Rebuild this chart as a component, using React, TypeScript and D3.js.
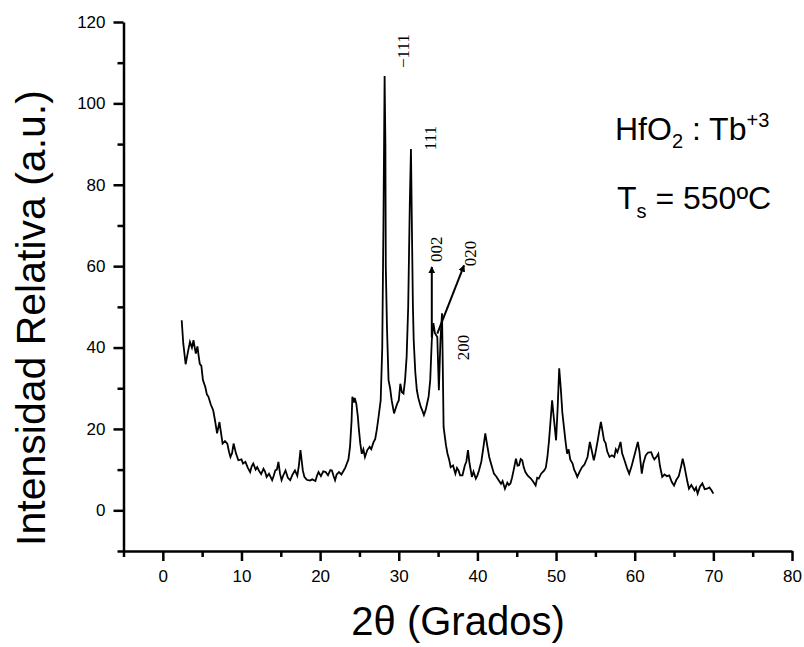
import React, { useEffect, useRef } from 'react';
import * as d3 from 'd3';

// XRD pattern, HfO2:Tb
const twoTheta = [
  2.4, 2.6, 2.9, 3.2, 3.45, 3.7, 3.9, 4.1, 4.2, 4.4, 4.55, 4.7, 4.9, 5.1, 5.4, 5.6, 5.8, 6.1, 6.4, 6.6,
  6.9, 7.2, 7.4, 7.6, 7.9, 8.2, 8.4, 8.6, 8.8, 9.0, 9.3, 9.6, 10.0, 10.2, 10.5, 10.8, 11.1, 11.3, 11.5, 11.8,
  12.0, 12.2, 12.5, 12.8, 13.0, 13.2, 13.5, 13.9, 14.1, 14.3, 14.5, 14.7, 14.9, 15.1, 15.3, 15.6, 15.9, 16.2, 16.5, 16.8,
  17.1, 17.3, 17.5, 17.7, 17.8, 18.0, 18.3, 18.7, 19.0, 19.4, 19.6, 19.8, 20.1, 20.4, 20.7, 21.0, 21.3, 21.5, 21.7, 21.9,
  22.1, 22.4, 22.7, 23.0, 23.2, 23.4, 23.6, 23.8, 24.0, 24.1, 24.3, 24.4, 24.6, 24.8, 24.9, 25.1, 25.3, 25.5, 25.7, 26.0,
  26.3, 26.5, 26.8, 27.0, 27.2, 27.4, 27.7, 27.9, 28.05, 28.2, 28.3, 28.35, 28.5, 28.7, 28.9, 29.1, 29.4, 29.6, 29.8, 30.0,
  30.2, 30.4, 30.6, 30.8, 31.0, 31.2, 31.4, 31.55, 31.7, 31.8, 31.9, 32.1, 32.3, 32.5, 32.8, 33.0, 33.2, 33.4, 33.6, 33.8,
  34.0, 34.2, 34.4, 34.6, 34.9, 35.1, 35.3, 35.5, 35.6, 35.7, 36.0, 36.2, 36.4, 36.6, 36.9, 37.2, 37.4, 37.6, 37.8, 38.1,
  38.4, 38.6, 38.8, 39.0, 39.3, 39.5, 39.8, 40.0, 40.2, 40.5, 40.8, 41.0, 41.2, 41.5, 41.8, 42.1, 42.4, 42.7, 43.0, 43.2,
  43.5, 43.8, 44.0, 44.2, 44.4, 44.6, 44.9, 45.1, 45.3, 45.5, 45.7, 45.9, 46.1, 46.4, 46.8, 47.1, 47.4, 47.6, 47.8, 48.1,
  48.5, 48.7, 48.9, 49.1, 49.3, 49.5, 49.7, 50.0, 50.2, 50.4, 50.6, 50.8, 51.0, 51.2, 51.4, 51.6, 51.8, 52.1, 52.3, 52.5,
  52.7, 53.0, 53.3, 53.6, 54.0, 54.3, 54.5, 54.8, 55.0, 55.3, 55.5, 55.7, 55.9, 56.1, 56.3, 56.5, 56.8, 57.1, 57.4, 57.6,
  57.8, 58.0, 58.2, 58.4, 58.7, 59.0, 59.3, 59.6, 59.8, 60.1, 60.4, 60.6, 60.9, 61.1, 61.4, 61.7, 62.1, 62.3, 62.5, 62.8,
  63.0, 63.2, 63.5, 63.8, 64.1, 64.4, 64.7, 65.0, 65.3, 65.6, 65.9, 66.1, 66.3, 66.5, 66.7, 66.9, 67.2, 67.6, 67.8, 68.0,
  68.3, 68.6, 68.9, 69.2, 69.5, 69.8, 70.0,
];
const intensity = [
  46.7, 41, 35.9, 39, 41.4, 40, 41.8, 39.5, 38.5, 40.3, 38, 36, 35.5, 32, 30.3, 28.5, 27.9, 26, 24.6, 22.5,
  18.9, 21.7, 19, 16.4, 17, 16.4, 14.5, 13.1, 14, 16.4, 14, 12.3, 12.5, 11.5, 11.9, 10.5, 9.4, 10.8, 11.5, 10,
  10.6, 9.8, 8.9, 10.2, 9.5, 8.2, 9, 7.4, 8.5, 9.8, 10, 11.9, 9, 7.4, 8.5, 9.8, 8, 7.4, 8.8, 9.8,
  8.5, 11, 14.8, 11.5, 9.8, 8.2, 7.5, 7.3, 7.6, 7.2, 8.5, 9.4, 8.4, 9.6, 9.4, 8.6, 9.9, 9.8, 8.5, 7.4,
  8.8, 9.4, 8.8, 9.8, 10.5, 11.5, 12.5, 15.6, 22, 27.9, 26.5, 27.6, 26.2, 23, 20.5, 16.5, 13.9, 15, 13.1, 14.8,
  15.6, 15, 16.8, 17.5, 19.7, 22.5, 27, 40, 70, 106.7, 90, 60, 45, 32, 30, 27, 23.8, 25, 26.2, 27,
  31.1, 29, 28.7, 32, 37.7, 50, 75, 88.8, 65, 50, 41.8, 34, 29.5, 27.5, 25.4, 24.5, 23.4, 24.5, 26.2, 28,
  32, 41.8, 46, 43.5, 42.6, 29.5, 41.8, 48.4, 35, 20.5, 16, 13.9, 12.5, 10.6, 11, 9, 10.4, 9.8, 8.6, 8.6,
  11, 12, 14.8, 11.5, 8.2, 9.5, 7.8, 8.6, 9.8, 12, 16, 18.9, 16.5, 13.1, 11, 9, 8.3, 7.4, 6.5, 7.2,
  5.3, 6.8, 6.2, 6.6, 8, 9.8, 12.7, 11, 11.1, 12.6, 12.3, 10.5, 9.4, 8.5, 7.8, 7, 6.1, 8, 7.8, 9,
  9.8, 10.5, 13.1, 17, 22, 27, 23, 17.2, 25, 34.9, 30, 24, 20.5, 17, 13.9, 15, 12.5, 11.5, 10, 9.2,
  8.2, 9.5, 10.6, 11.2, 13.1, 16.8, 15, 12.3, 14, 17.2, 19.5, 21.7, 19.5, 17.2, 16.5, 14.5, 13.1, 13.5, 13.1, 15,
  14.3, 15.5, 16.8, 14, 12.3, 10.5, 9, 10.8, 12.3, 14.5, 16.8, 14.5, 9, 11.5, 13.5, 14.2, 14.3, 13.2, 12.5, 13.2,
  13.9, 11, 8.2, 8.8, 8.4, 8.6, 7, 6.1, 7.5, 8.4, 10.8, 12.7, 11, 9, 7, 5.3, 6.2, 4.9, 5.6, 4.1,
  5.8, 6.6, 5.2, 5.3, 5.6, 4.8, 4.1,
];

const xMajor = [0, 10, 20, 30, 40, 50, 60, 70, 80];
const xMinor = [-5, 5, 15, 25, 35, 45, 55, 65, 75];
const yMajor = [0, 20, 40, 60, 80, 100, 120];
const yMinor = [-10, 10, 30, 50, 70, 90, 110];

// Miller indices and where their labels sit (2θ, intensity)
const peakNames = ['\u2212111', '111', '002', '020', '200'];
const peakTheta = [31.3, 34.7, 35.5, 39.8, 38.9];
const peakInt = [108.7, 88.5, 61, 60, 36.9];

// arrows: from [2θ, I] to [2θ, I]
const arrowFrom = [[34.2, 42.5], [34.9, 43.4]];
const arrowTo = [[34.2, 59.8], [38.3, 60.2]];

const W = 804;
const H = 647;
const SANS = "'Liberation Sans', Arial, sans-serif";
const SERIF = "'Liberation Serif', 'Times New Roman', serif";

export default function App() {
  const ref = useRef<SVGSVGElement>(null);

  useEffect(() => {
    if (!ref.current) return;
    const svg = d3.select(ref.current);
    svg.selectAll('*').remove();

    const x = d3.scaleLinear().domain([-5, 80]).range([123.5, 792]);
    const y = d3.scaleLinear().domain([-10, 120]).range([551, 22]);

    svg.append('defs').append('marker')
      .attr('id', 'arrowhead')
      .attr('viewBox', '0 0 10 10')
      .attr('refX', 9).attr('refY', 5)
      .attr('markerWidth', 7).attr('markerHeight', 7)
      .attr('markerUnits', 'userSpaceOnUse')
      .attr('orient', 'auto')
      .append('path').attr('d', 'M0,0 L10,5 L0,10 Z').attr('fill', '#000');

    // X axis
    const gx = svg.append('g').attr('transform', `translate(0,${y(-10)})`);
    gx.call(d3.axisBottom(x).tickValues(xMajor).tickSize(10).tickSizeOuter(0).tickPadding(9).tickFormat(d3.format('d')) as any);
    gx.append('g').call(d3.axisBottom(x).tickValues(xMinor).tickSize(6).tickSizeOuter(0).tickFormat(() => '') as any)
      .select('.domain').remove();

    // Y axis
    const gy = svg.append('g').attr('transform', `translate(${x(-5)},0)`);
    gy.call(d3.axisLeft(y).tickValues(yMajor).tickSize(10).tickSizeOuter(0).tickPadding(8).tickFormat(d3.format('d')) as any);
    gy.append('g').call(d3.axisLeft(y).tickValues(yMinor).tickSize(6).tickSizeOuter(0).tickFormat(() => '') as any)
      .select('.domain').remove();

    svg.selectAll('.domain').attr('stroke', '#000').attr('stroke-width', 2.5);
    svg.selectAll('.tick line').attr('stroke', '#000').attr('stroke-width', 2.5);
    svg.selectAll('.tick text').attr('fill', '#000').attr('font-family', SANS).attr('font-size', 17);

    // pattern
    const pts = twoTheta.map((t, i) => [t, intensity[i]] as [number, number]);
    svg.append('path')
      .datum(pts)
      .attr('fill', 'none')
      .attr('stroke', '#000')
      .attr('stroke-width', 1.8)
      .attr('stroke-linejoin', 'miter')
      .attr('d', d3.line<[number, number]>().x(d => x(d[0])).y(d => y(d[1])));

    // arrows
    arrowFrom.forEach((f, i) => {
      svg.append('line')
        .attr('x1', x(f[0])).attr('y1', y(f[1]))
        .attr('x2', x(arrowTo[i][0])).attr('y2', y(arrowTo[i][1]))
        .attr('stroke', '#000').attr('stroke-width', 2)
        .attr('marker-end', 'url(#arrowhead)');
    });

    // peak labels
    peakNames.forEach((name, i) => {
      const px = x(peakTheta[i]);
      const py = y(peakInt[i]);
      svg.append('text')
        .attr('transform', `translate(${px},${py}) rotate(-90)`)
        .attr('font-family', SERIF)
        .attr('font-size', 17)
        .attr('fill', '#000')
        .text(name);
    });

    // sample annotation
    const t1 = svg.append('text').attr('x', 615).attr('y', 140)
      .attr('font-family', SANS).attr('font-size', 32).attr('fill', '#000');
    t1.append('tspan').text('HfO');
    t1.append('tspan').attr('font-size', 20).attr('dy', 8).text('2');
    t1.append('tspan').attr('dy', -8).text(' : Tb');
    t1.append('tspan').attr('font-size', 20).attr('dy', -13).text('+3');

    const t2 = svg.append('text').attr('x', 617).attr('y', 209)
      .attr('font-family', SANS).attr('font-size', 32).attr('fill', '#000');
    t2.append('tspan').text('T');
    t2.append('tspan').attr('font-size', 20).attr('dy', 9).text('s');
    t2.append('tspan').attr('dy', -9).text(' = 550\u00BAC');

    // axis titles
    svg.append('text')
      .attr('x', 458).attr('y', 635)
      .attr('text-anchor', 'middle')
      .attr('font-family', SANS).attr('font-size', 40).attr('fill', '#000')
      .text('2\u03B8 (Grados)');

    svg.append('text')
      .attr('transform', `translate(45,318) rotate(-90)`)
      .attr('text-anchor', 'middle')
      .attr('font-family', SANS).attr('font-size', 41).attr('fill', '#000')
      .text('Intensidad Relativa (a.u.)');
  }, []);

  return (
    <svg
      ref={ref}
      width={W}
      height={H}
      style={{ position: 'absolute', left: 0, top: 0, background: '#fff' }}
    />
  );
}
